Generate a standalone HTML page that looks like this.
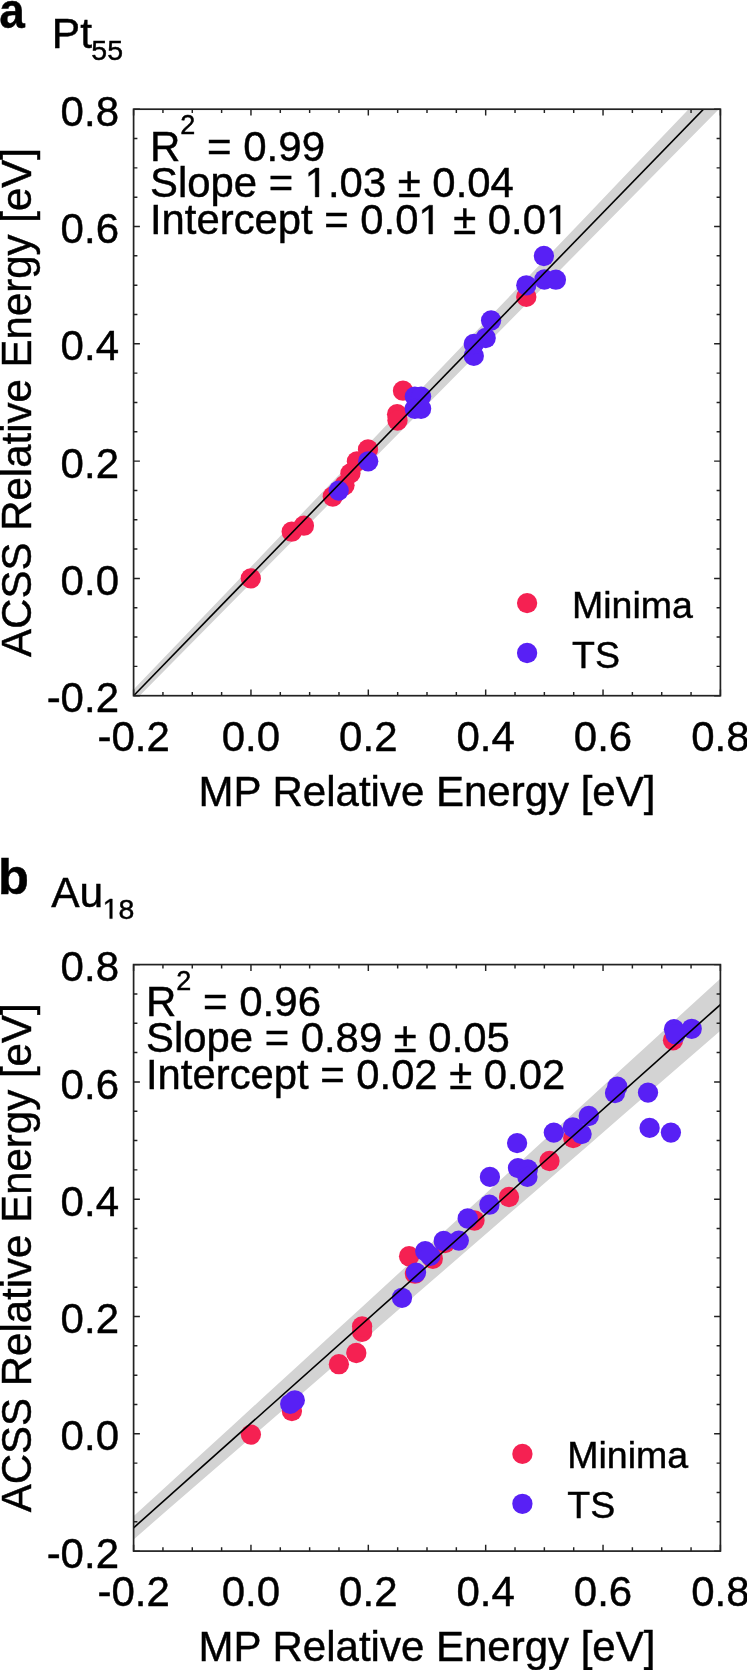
<!DOCTYPE html>
<html><head><meta charset="utf-8"><style>
html,body{margin:0;padding:0;background:#fff;width:747px;height:1670px;overflow:hidden}
svg{display:block;will-change:transform}
text{font-family:"Liberation Sans",sans-serif;fill:#000;stroke:#000;stroke-width:0.45px}
</style></head><body>
<svg width="747" height="1670" viewBox="0 0 747 1670">
<rect width="747" height="1670" fill="#fff"/>
<clipPath id="clip0"><rect x="133.6" y="109.2" width="586.80" height="586.50"/></clipPath>
<g clip-path="url(#clip0)">
<polygon fill="#D3D3D3" points="103.60,720.91 135.94,687.09 168.28,653.28 200.62,619.46 232.96,585.64 265.30,551.83 297.64,518.01 329.98,484.19 362.32,450.38 394.66,416.56 427.00,382.74 459.34,348.93 491.68,315.11 524.02,281.29 556.36,247.48 588.70,213.66 621.04,179.84 653.38,146.03 685.72,112.21 718.06,78.39 750.40,44.58 750.40,77.29 718.06,110.04 685.72,142.78 653.38,175.53 621.04,208.28 588.70,241.03 556.36,273.77 524.02,306.52 491.68,339.27 459.34,372.02 427.00,404.76 394.66,437.51 362.32,470.26 329.98,503.01 297.64,535.75 265.30,568.50 232.96,601.25 200.62,634.00 168.28,666.74 135.94,699.49 103.60,732.24"/>
<circle cx="250.8" cy="578.4" r="10.15" fill="#F52152"/>
<circle cx="291.7" cy="531.7" r="10.15" fill="#F52152"/>
<circle cx="303.9" cy="525.7" r="10.15" fill="#F52152"/>
<circle cx="332.8" cy="496.5" r="10.15" fill="#F52152"/>
<circle cx="344.5" cy="485.2" r="10.15" fill="#F52152"/>
<circle cx="350.4" cy="473.4" r="10.15" fill="#F52152"/>
<circle cx="356.9" cy="461.4" r="10.15" fill="#F52152"/>
<circle cx="368.0" cy="449.4" r="10.15" fill="#F52152"/>
<circle cx="397.1" cy="414.2" r="10.15" fill="#F52152"/>
<circle cx="397.5" cy="420.5" r="10.15" fill="#F52152"/>
<circle cx="403.0" cy="390.7" r="10.15" fill="#F52152"/>
<circle cx="526.3" cy="296.9" r="10.15" fill="#F52152"/>
<circle cx="338.7" cy="490.6" r="10.15" fill="#5820F5"/>
<circle cx="368.2" cy="461.3" r="10.15" fill="#5820F5"/>
<circle cx="414.8" cy="396.6" r="10.15" fill="#5820F5"/>
<circle cx="421.1" cy="396.6" r="10.15" fill="#5820F5"/>
<circle cx="414.8" cy="408.8" r="10.15" fill="#5820F5"/>
<circle cx="421.1" cy="408.8" r="10.15" fill="#5820F5"/>
<circle cx="473.8" cy="355.9" r="10.15" fill="#5820F5"/>
<circle cx="473.8" cy="344.0" r="10.15" fill="#5820F5"/>
<circle cx="485.7" cy="338.0" r="10.15" fill="#5820F5"/>
<circle cx="491.1" cy="320.5" r="10.15" fill="#5820F5"/>
<circle cx="526.3" cy="285.3" r="10.15" fill="#5820F5"/>
<circle cx="543.9" cy="256.0" r="10.15" fill="#5820F5"/>
<circle cx="544.4" cy="279.5" r="10.15" fill="#5820F5"/>
<circle cx="555.9" cy="279.7" r="10.15" fill="#5820F5"/>
<line x1="103.6" y1="726.57" x2="750.4" y2="60.93" stroke="#000" stroke-width="1.6"/>
</g>
<path d="M133.60,695.70v-6.3M133.60,109.20v6.3M133.60,695.70h6.3M720.40,695.70h-6.3M162.94,695.70v-3.8M162.94,109.20v3.8M133.60,666.38h3.8M720.40,666.38h-3.8M192.28,695.70v-3.8M192.28,109.20v3.8M133.60,637.05h3.8M720.40,637.05h-3.8M221.62,695.70v-3.8M221.62,109.20v3.8M133.60,607.73h3.8M720.40,607.73h-3.8M250.96,695.70v-6.3M250.96,109.20v6.3M133.60,578.40h6.3M720.40,578.40h-6.3M280.30,695.70v-3.8M280.30,109.20v3.8M133.60,549.08h3.8M720.40,549.08h-3.8M309.64,695.70v-3.8M309.64,109.20v3.8M133.60,519.75h3.8M720.40,519.75h-3.8M338.98,695.70v-3.8M338.98,109.20v3.8M133.60,490.43h3.8M720.40,490.43h-3.8M368.32,695.70v-6.3M368.32,109.20v6.3M133.60,461.10h6.3M720.40,461.10h-6.3M397.66,695.70v-3.8M397.66,109.20v3.8M133.60,431.78h3.8M720.40,431.78h-3.8M427.00,695.70v-3.8M427.00,109.20v3.8M133.60,402.45h3.8M720.40,402.45h-3.8M456.34,695.70v-3.8M456.34,109.20v3.8M133.60,373.12h3.8M720.40,373.12h-3.8M485.68,695.70v-6.3M485.68,109.20v6.3M133.60,343.80h6.3M720.40,343.80h-6.3M515.02,695.70v-3.8M515.02,109.20v3.8M133.60,314.48h3.8M720.40,314.48h-3.8M544.36,695.70v-3.8M544.36,109.20v3.8M133.60,285.15h3.8M720.40,285.15h-3.8M573.70,695.70v-3.8M573.70,109.20v3.8M133.60,255.83h3.8M720.40,255.83h-3.8M603.04,695.70v-6.3M603.04,109.20v6.3M133.60,226.50h6.3M720.40,226.50h-6.3M632.38,695.70v-3.8M632.38,109.20v3.8M133.60,197.18h3.8M720.40,197.18h-3.8M661.72,695.70v-3.8M661.72,109.20v3.8M133.60,167.85h3.8M720.40,167.85h-3.8M691.06,695.70v-3.8M691.06,109.20v3.8M133.60,138.53h3.8M720.40,138.53h-3.8M720.40,695.70v-6.3M720.40,109.20v6.3M133.60,109.20h6.3M720.40,109.20h-6.3" stroke="#222" stroke-width="1.45" fill="none"/>
<rect x="133.6" y="109.2" width="586.80" height="586.50" fill="none" stroke="#222" stroke-width="1.7"/>
<text x="133.60" y="751.00" text-anchor="middle" font-size="42">-0.2</text>
<text x="119" y="712.30" text-anchor="end" font-size="42">-0.2</text>
<text x="250.96" y="751.00" text-anchor="middle" font-size="42">0.0</text>
<text x="119" y="595.00" text-anchor="end" font-size="42">0.0</text>
<text x="368.32" y="751.00" text-anchor="middle" font-size="42">0.2</text>
<text x="119" y="477.70" text-anchor="end" font-size="42">0.2</text>
<text x="485.68" y="751.00" text-anchor="middle" font-size="42">0.4</text>
<text x="119" y="360.40" text-anchor="end" font-size="42">0.4</text>
<text x="603.04" y="751.00" text-anchor="middle" font-size="42">0.6</text>
<text x="119" y="243.10" text-anchor="end" font-size="42">0.6</text>
<text x="720.40" y="751.00" text-anchor="middle" font-size="42">0.8</text>
<text x="119" y="125.80" text-anchor="end" font-size="42">0.8</text>
<text x="427.00" y="805.70" text-anchor="middle" font-size="42">MP Relative Energy [eV]</text>
<text transform="translate(31,402.45) rotate(-90)" text-anchor="middle" font-size="42">ACSS Relative Energy [eV]</text>
<text x="150" y="160.50" font-size="42">R<tspan font-size="27" dy="-26.2">2</tspan><tspan dy="26.2"> = 0.99</tspan></text>
<text class="h1" x="150" y="196.90" font-size="41.85">Slope =  .03 ± 0.04</text>
<text class="h1" x="150" y="234.00" font-size="41.8">Intercept = 0.0  ± 0.0 </text>
<circle cx="527.1" cy="603.10" r="10.15" fill="#F52152"/>
<circle cx="527.1" cy="653.00" r="10.15" fill="#5820F5"/>
<text x="572" y="617.50" font-size="37.5">Minima</text>
<text x="572" y="667.50" font-size="37.5">TS</text>
<text transform="translate(-0.7,27.6) scale(0.92,1)" font-size="50" font-weight="bold">a</text>
<text class="h1" x="51.8" y="48.4" font-size="42.5">Pt<tspan font-size="28.5" dx="-0.6" dy="11.3">55</tspan></text>
<clipPath id="clip855"><rect x="133.6" y="964.6" width="586.80" height="586.50"/></clipPath>
<g clip-path="url(#clip855)">
<polygon fill="#D3D3D3" points="103.60,1543.70 135.94,1514.07 168.28,1484.43 200.62,1454.80 232.96,1425.17 265.30,1395.53 297.64,1365.90 329.98,1336.26 362.32,1306.63 394.66,1277.00 427.00,1247.36 459.34,1217.73 491.68,1188.09 524.02,1158.46 556.36,1128.83 588.70,1099.19 621.04,1069.56 653.38,1039.92 685.72,1010.29 718.06,980.66 750.40,951.02 750.40,1004.70 718.06,1032.74 685.72,1060.78 653.38,1088.81 621.04,1116.85 588.70,1144.88 556.36,1172.92 524.02,1200.95 491.68,1228.99 459.34,1257.03 427.00,1285.06 394.66,1313.10 362.32,1341.13 329.98,1369.17 297.64,1397.21 265.30,1425.24 232.96,1453.28 200.62,1481.31 168.28,1509.35 135.94,1537.38 103.60,1565.42"/>
<circle cx="250.9" cy="1434.6" r="10.15" fill="#F52152"/>
<circle cx="291.9" cy="1411.0" r="10.15" fill="#F52152"/>
<circle cx="338.9" cy="1364.2" r="10.15" fill="#F52152"/>
<circle cx="356.3" cy="1353.0" r="10.15" fill="#F52152"/>
<circle cx="362.1" cy="1331.9" r="10.15" fill="#F52152"/>
<circle cx="362.1" cy="1326.5" r="10.15" fill="#F52152"/>
<circle cx="409.1" cy="1256.2" r="10.15" fill="#F52152"/>
<circle cx="414.9" cy="1273.7" r="10.15" fill="#F52152"/>
<circle cx="432.8" cy="1258.8" r="10.15" fill="#F52152"/>
<circle cx="445.0" cy="1243.0" r="10.15" fill="#F52152"/>
<circle cx="474.5" cy="1220.5" r="10.15" fill="#F52152"/>
<circle cx="509.0" cy="1197.0" r="10.15" fill="#F52152"/>
<circle cx="549.5" cy="1161.0" r="10.15" fill="#F52152"/>
<circle cx="573.2" cy="1138.0" r="10.15" fill="#F52152"/>
<circle cx="673.0" cy="1040.3" r="10.15" fill="#F52152"/>
<circle cx="294.8" cy="1400.3" r="10.15" fill="#5820F5"/>
<circle cx="290.2" cy="1403.9" r="10.15" fill="#5820F5"/>
<circle cx="402.0" cy="1297.8" r="10.15" fill="#5820F5"/>
<circle cx="416.0" cy="1272.6" r="10.15" fill="#5820F5"/>
<circle cx="425.2" cy="1251.1" r="10.15" fill="#5820F5"/>
<circle cx="430.3" cy="1255.9" r="10.15" fill="#5820F5"/>
<circle cx="443.7" cy="1241.0" r="10.15" fill="#5820F5"/>
<circle cx="458.8" cy="1240.6" r="10.15" fill="#5820F5"/>
<circle cx="467.7" cy="1218.5" r="10.15" fill="#5820F5"/>
<circle cx="489.4" cy="1204.7" r="10.15" fill="#5820F5"/>
<circle cx="489.9" cy="1176.9" r="10.15" fill="#5820F5"/>
<circle cx="517.1" cy="1143.1" r="10.15" fill="#5820F5"/>
<circle cx="518.0" cy="1168.1" r="10.15" fill="#5820F5"/>
<circle cx="527.8" cy="1169.4" r="10.15" fill="#5820F5"/>
<circle cx="527.4" cy="1176.9" r="10.15" fill="#5820F5"/>
<circle cx="553.8" cy="1132.6" r="10.15" fill="#5820F5"/>
<circle cx="572.9" cy="1127.3" r="10.15" fill="#5820F5"/>
<circle cx="581.6" cy="1134.1" r="10.15" fill="#5820F5"/>
<circle cx="588.8" cy="1116.0" r="10.15" fill="#5820F5"/>
<circle cx="615.0" cy="1093.0" r="10.15" fill="#5820F5"/>
<circle cx="617.3" cy="1086.7" r="10.15" fill="#5820F5"/>
<circle cx="648.0" cy="1092.6" r="10.15" fill="#5820F5"/>
<circle cx="649.6" cy="1127.9" r="10.15" fill="#5820F5"/>
<circle cx="670.9" cy="1132.6" r="10.15" fill="#5820F5"/>
<circle cx="674.0" cy="1029.2" r="10.15" fill="#5820F5"/>
<circle cx="675.5" cy="1034.2" r="10.15" fill="#5820F5"/>
<circle cx="691.7" cy="1028.8" r="10.15" fill="#5820F5"/>
<line x1="103.6" y1="1554.56" x2="750.4" y2="977.86" stroke="#000" stroke-width="1.6"/>
</g>
<path d="M133.60,1551.10v-6.3M133.60,964.60v6.3M133.60,1551.10h6.3M720.40,1551.10h-6.3M162.94,1551.10v-3.8M162.94,964.60v3.8M133.60,1521.77h3.8M720.40,1521.77h-3.8M192.28,1551.10v-3.8M192.28,964.60v3.8M133.60,1492.45h3.8M720.40,1492.45h-3.8M221.62,1551.10v-3.8M221.62,964.60v3.8M133.60,1463.12h3.8M720.40,1463.12h-3.8M250.96,1551.10v-6.3M250.96,964.60v6.3M133.60,1433.80h6.3M720.40,1433.80h-6.3M280.30,1551.10v-3.8M280.30,964.60v3.8M133.60,1404.47h3.8M720.40,1404.47h-3.8M309.64,1551.10v-3.8M309.64,964.60v3.8M133.60,1375.15h3.8M720.40,1375.15h-3.8M338.98,1551.10v-3.8M338.98,964.60v3.8M133.60,1345.82h3.8M720.40,1345.82h-3.8M368.32,1551.10v-6.3M368.32,964.60v6.3M133.60,1316.50h6.3M720.40,1316.50h-6.3M397.66,1551.10v-3.8M397.66,964.60v3.8M133.60,1287.17h3.8M720.40,1287.17h-3.8M427.00,1551.10v-3.8M427.00,964.60v3.8M133.60,1257.85h3.8M720.40,1257.85h-3.8M456.34,1551.10v-3.8M456.34,964.60v3.8M133.60,1228.52h3.8M720.40,1228.52h-3.8M485.68,1551.10v-6.3M485.68,964.60v6.3M133.60,1199.20h6.3M720.40,1199.20h-6.3M515.02,1551.10v-3.8M515.02,964.60v3.8M133.60,1169.88h3.8M720.40,1169.88h-3.8M544.36,1551.10v-3.8M544.36,964.60v3.8M133.60,1140.55h3.8M720.40,1140.55h-3.8M573.70,1551.10v-3.8M573.70,964.60v3.8M133.60,1111.22h3.8M720.40,1111.22h-3.8M603.04,1551.10v-6.3M603.04,964.60v6.3M133.60,1081.90h6.3M720.40,1081.90h-6.3M632.38,1551.10v-3.8M632.38,964.60v3.8M133.60,1052.57h3.8M720.40,1052.57h-3.8M661.72,1551.10v-3.8M661.72,964.60v3.8M133.60,1023.25h3.8M720.40,1023.25h-3.8M691.06,1551.10v-3.8M691.06,964.60v3.8M133.60,993.93h3.8M720.40,993.93h-3.8M720.40,1551.10v-6.3M720.40,964.60v6.3M133.60,964.60h6.3M720.40,964.60h-6.3" stroke="#222" stroke-width="1.45" fill="none"/>
<rect x="133.6" y="964.6" width="586.80" height="586.50" fill="none" stroke="#222" stroke-width="1.7"/>
<text x="133.60" y="1606.40" text-anchor="middle" font-size="42">-0.2</text>
<text x="119" y="1567.70" text-anchor="end" font-size="42">-0.2</text>
<text x="250.96" y="1606.40" text-anchor="middle" font-size="42">0.0</text>
<text x="119" y="1450.40" text-anchor="end" font-size="42">0.0</text>
<text x="368.32" y="1606.40" text-anchor="middle" font-size="42">0.2</text>
<text x="119" y="1333.10" text-anchor="end" font-size="42">0.2</text>
<text x="485.68" y="1606.40" text-anchor="middle" font-size="42">0.4</text>
<text x="119" y="1215.80" text-anchor="end" font-size="42">0.4</text>
<text x="603.04" y="1606.40" text-anchor="middle" font-size="42">0.6</text>
<text x="119" y="1098.50" text-anchor="end" font-size="42">0.6</text>
<text x="720.40" y="1606.40" text-anchor="middle" font-size="42">0.8</text>
<text x="119" y="981.20" text-anchor="end" font-size="42">0.8</text>
<text x="427.00" y="1661.10" text-anchor="middle" font-size="42">MP Relative Energy [eV]</text>
<text transform="translate(31,1257.85) rotate(-90)" text-anchor="middle" font-size="42">ACSS Relative Energy [eV]</text>
<text x="146" y="1015.90" font-size="42">R<tspan font-size="27" dy="-26.2">2</tspan><tspan dy="26.2"> = 0.96</tspan></text>
<text class="h1" x="146" y="1052.30" font-size="41.85">Slope = 0.89 ± 0.05</text>
<text class="h1" x="146" y="1089.40" font-size="41.8">Intercept = 0.02 ± 0.02</text>
<circle cx="522.4" cy="1453.90" r="10.15" fill="#F52152"/>
<circle cx="522.4" cy="1503.80" r="10.15" fill="#5820F5"/>
<text x="567.3" y="1468.30" font-size="37.5">Minima</text>
<text x="567.3" y="1518.30" font-size="37.5">TS</text>
<text x="-2" y="894" font-size="50.6" font-weight="bold">b</text>
<text class="h1" x="51.2" y="907.3" font-size="42.5">Au<tspan font-size="28.5" dx="-0.6" dy="11.3"> 8</tspan></text>
<path transform="translate(304.70,196.90) scale(0.02043,-0.02043)" d="M515,0L515,1237L197,1010L197,1180L530,1409L696,1409L696,0Z" stroke="#000" stroke-width="0.45" vector-effect="non-scaling-stroke"/>
<path transform="translate(418.36,234.00) scale(0.02041,-0.02041)" d="M515,0L515,1237L197,1010L197,1180L530,1409L696,1409L696,0Z" stroke="#000" stroke-width="0.45" vector-effect="non-scaling-stroke"/>
<path transform="translate(545.88,234.00) scale(0.02041,-0.02041)" d="M515,0L515,1237L197,1010L197,1180L530,1409L696,1409L696,0Z" stroke="#000" stroke-width="0.45" vector-effect="non-scaling-stroke"/>
<path transform="translate(102.58,918.60) scale(0.01392,-0.01392)" d="M515,0L515,1237L197,1010L197,1180L530,1409L696,1409L696,0Z" stroke="#000" stroke-width="0.45" vector-effect="non-scaling-stroke"/>
</svg>
</body></html>
